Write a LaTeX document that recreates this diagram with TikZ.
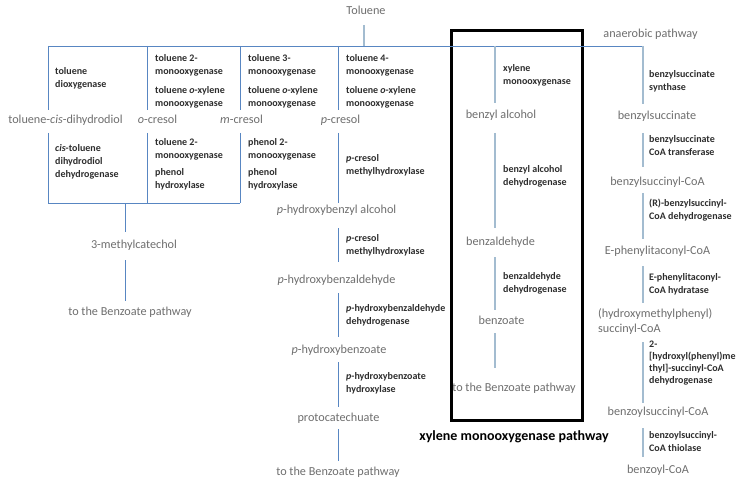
\documentclass[tikz,border=0pt]{standalone}
\usepackage{fontspec}
\setmainfont{Carlito}
\definecolor{lineblue}{RGB}{88,134,194}
\definecolor{lightline}{RGB}{163,188,208}
\definecolor{cmpd}{RGB}{110,110,110}
\definecolor{enzc}{RGB}{45,45,45}
\tikzset{
 cpd/.style={inner sep=0pt, anchor=mid, text=cmpd, font=\fontsize{12.2}{15}\selectfont},
 enzlab/.style={inner sep=0pt, anchor=north west, align=left, yshift=4.7pt, text=enzc, font=\fontsize{10}{12.5}\selectfont\bfseries},
 conn/.style={draw=lineblue, line width=0.85pt},
 lconn/.style={draw=lightline, line width=1.2pt},
 framebox/.style={draw=black, line width=2.6pt, inner sep=0pt, anchor=north west},
}
\begin{document}
\begin{tikzpicture}[x=1pt,y=-1pt]
\useasboundingbox (0,0) rectangle (750,484);

% ---- compounds ----
\node[cpd] (toluene) at (366,12) {Toluene};
\node[cpd] (tcd) at (65.5,121) {toluene-\textit{cis}-dihydrodiol};
\node[cpd] (ocr) at (157.5,121) {\textit{o}-cresol};
\node[cpd] (mcr) at (241.5,121) {\textit{m}-cresol};
\node[cpd] (pcr) at (340.5,121) {\textit{p}-cresol};
\node[cpd] (mcat) at (134,246) {3-methylcatechol};
\node[cpd] (bz1) at (130,313) {to the Benzoate pathway};
\node[cpd] (phba) at (336.5,211) {\textit{p}-hydroxybenzyl alcohol};
\node[cpd] (phbald) at (336.5,281) {\textit{p}-hydroxybenzaldehyde};
\node[cpd] (phb) at (339,351) {\textit{p}-hydroxybenzoate};
\node[cpd] (pca) at (338.5,419) {protocatechuate};
\node[cpd] (bz2) at (338,473) {to the Benzoate pathway};
\node[cpd] (balc) at (501,116) {benzyl alcohol};
\node[cpd] (bald) at (500.5,243) {benzaldehyde};
\node[cpd] (bzo) at (501.5,322) {benzoate};
\node[cpd] (bz3) at (514,389) {to the Benzoate pathway};
\node[inner sep=0pt, anchor=mid, text=black, font=\fontsize{14}{17}\selectfont\bfseries] (title) at (514,438) {xylene monooxygenase pathway};
\node[cpd] (anaer) at (650.5,35) {anaerobic pathway};
\node[cpd] (bsucc) at (657,117) {benzylsuccinate};
\node[cpd] (bscoa) at (657.5,183) {benzylsuccinyl-CoA};
\node[cpd] (epcoa) at (657.5,252) {E-phenylitaconyl-CoA};
\node[cpd, anchor=north west, align=left, yshift=6.1pt] (hmp) at (598,314) {(hydroxymethylphenyl)\\succinyl-CoA};
\node[cpd] (bzscoa) at (658,413) {benzoylsuccinyl-CoA};
\node[cpd] (bzcoa) at (658,471) {benzoyl-CoA};

% ---- enzymes ----
\node[enzlab] (e1) at (55,72) {toluene\\dioxygenase};
\node[enzlab, font=\fontsize{10}{13}\selectfont\bfseries] (e2) at (55,149) {\textit{cis}-toluene\\dihydrodiol\\dehydrogenase};
\node[enzlab] (e3) at (155,59) {toluene 2-\\monooxygenase};
\node[enzlab] (e4) at (155,91) {toluene \textit{o}-xylene\\monooxygenase};
\node[enzlab] (e5) at (155,143) {toluene 2-\\monooxygenase};
\node[enzlab] (e6) at (155,173) {phenol\\hydroxylase};
\node[enzlab] (e7) at (248,59) {toluene 3-\\monooxygenase};
\node[enzlab] (e8) at (248,91) {toluene \textit{o}-xylene\\monooxygenase};
\node[enzlab] (e9) at (248,143) {phenol 2-\\monooxygenase};
\node[enzlab] (e10) at (248,173) {phenol\\hydroxylase};
\node[enzlab] (e11) at (346,59) {toluene 4-\\monooxygenase};
\node[enzlab] (e12) at (346,91) {toluene \textit{o}-xylene\\monooxygenase};
\node[enzlab] (e13) at (346,159) {\textit{p}-cresol\\methylhydroxylase};
\node[enzlab] (e14) at (346,239) {\textit{p}-cresol\\methylhydroxylase};
\node[enzlab] (e15) at (346,309) {\textit{p}-hydroxybenzaldehyde\\dehydrogenase};
\node[enzlab] (e16) at (346,377) {\textit{p}-hydroxybenzoate\\hydroxylase};
\node[enzlab] (e17) at (503,69) {xylene\\monooxygenase};
\node[enzlab] (e18) at (503,170) {benzyl alcohol\\dehydrogenase};
\node[enzlab] (e19) at (503,277) {benzaldehyde\\dehydrogenase};
\node[enzlab] (e20) at (649,75) {benzylsuccinate\\synthase};
\node[enzlab] (e21) at (649,140) {benzylsuccinate\\CoA transferase};
\node[enzlab] (e22) at (649,204) {(R)-benzylsuccinyl-\\CoA dehydrogenase};
\node[enzlab] (e23) at (649,278) {E-phenylitaconyl-\\CoA hydratase};
\node[enzlab, font=\fontsize{10}{12}\selectfont\bfseries] (e24) at (649,345) {2-\\{}[hydroxyl(phenyl)me\\thyl]-succinyl-CoA\\dehydrogenase};
\node[enzlab] (e25) at (649,436) {benzoylsuccinyl-\\CoA thiolase};

% ---- frame of xylene pathway ----
\node[framebox, minimum width=131pt, minimum height=390pt] (xbox) at (450,29) {};

% ---- main branching lines ----
\coordinate (tl) at (48,46);
\coordinate (tr) at (643,46);
\coordinate (tt) at (364,25);
\coordinate (tm) at (364,46);
\draw[conn] (tl) -- (tr);
\draw[lconn] (tt) -- (tm);
\coordinate (bl) at (48,203);
\coordinate (br) at (240,203);
\draw[conn] (bl) -- (br);

% blue vertical segments
\foreach \n/\x/\a/\b in {a/48/46/110, b/48/133/203, c/147/46/110, d/147/133/203,
  e/240/46/110, f/240/133/203, g/338/46/110, h/338/133/203,
  i/125/203/232, j/125/260/301,
  k/338/228/262, l/338/293/337, m/338/362/407, n/338/429/461}{
  \coordinate (v\n1) at (\x,\a);
  \coordinate (v\n2) at (\x,\b);
  \draw[conn] (v\n1) -- (v\n2);
}
% light vertical segments
\foreach \n/\x/\a/\b in {a/495/46/103, b/495/133/228, c/495/257/310, d/495/333/368,
  e/643/46/104, f/643/133/167, g/643/193/239, h/643/266/303, i/643/342/403, j/643/428/457}{
  \coordinate (w\n1) at (\x,\a);
  \coordinate (w\n2) at (\x,\b);
  \draw[lconn] (w\n1) -- (w\n2);
}
\end{tikzpicture}
\end{document}
